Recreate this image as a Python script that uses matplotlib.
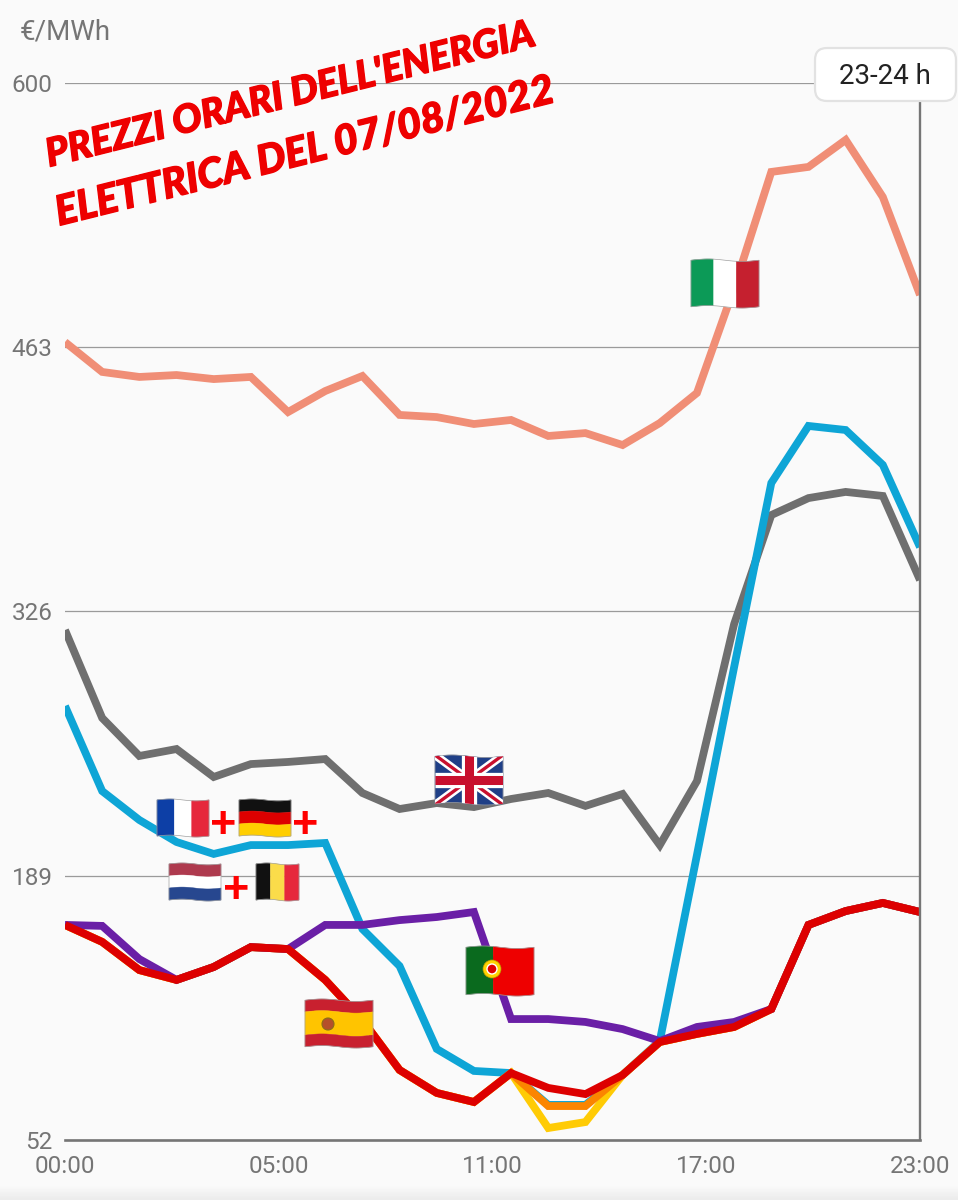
import numpy as np
import matplotlib
matplotlib.use('Agg')
import matplotlib.pyplot as plt
import matplotlib.patheffects as pe
from matplotlib.patches import Polygon, Circle, FancyBboxPatch

# hourly prices, EUR/MWh
hours = list(range(24))
italy = [465.7, 450.2, 447.6, 448.6, 446.5, 447.6, 429.4, 440.3, 448.1, 427.9, 426.8, 423.2,
         425.3, 417.0, 418.5, 412.3, 423.7, 439.3, 493.7, 553.9, 556.5, 570.5, 540.9, 490.1]
uk = [316.4, 270.8, 251.1, 254.7, 240.2, 246.9, 248.0, 249.5, 231.9, 223.6, 226.7, 224.6,
      228.8, 231.9, 225.2, 231.4, 204.9, 238.1, 319.5, 376.0, 384.8, 388.0, 385.9, 342.3]
central = [277.0, 232.9, 217.9, 206.5, 200.3, 204.9, 204.9, 206.0, 161.4, 142.2, 99.2, 87.8,
           86.7, 70.2, 70.2, 85.7, 103.3, 199.8, 297.2, 392.6, 422.2, 420.1, 402.0, 359.4]
yellow = [163.5, 154.7, 140.1, 135.0, 141.7, 152.0, 151.0, 135.0, 114.2, 88.3, 76.4, 71.7,
          86.7, 58.2, 61.3, 85.7, 102.8, 107.0, 110.6, 119.9, 163.5, 170.7, 174.9, 170.2]
orange = [163.5, 154.7, 140.1, 135.0, 141.7, 152.0, 151.0, 135.0, 114.2, 88.3, 76.4, 71.7,
          86.7, 69.6, 69.6, 85.7, 102.8, 107.0, 110.6, 119.9, 163.5, 170.7, 174.9, 170.2]
portugal = [163.5, 163.0, 145.8, 135.0, 141.7, 152.0, 151.0, 163.5, 163.5, 166.0, 167.6, 170.2,
            114.7, 114.7, 113.2, 109.5, 103.3, 110.6, 113.2, 119.9, 163.5, 170.7, 174.9, 170.2]
spain = [163.5, 154.7, 140.1, 135.0, 141.7, 152.0, 151.0, 135.0, 114.2, 88.3, 76.4, 71.7,
         86.7, 79.0, 75.8, 85.7, 102.8, 107.0, 110.6, 119.9, 163.5, 170.7, 174.9, 170.2]

y_ticks = [52, 189, 326, 463, 600]
x_tick_pos = [0, 5.75, 11.5, 17.25, 23]
x_tick_labels = ['00:00', '05:00', '11:00', '17:00', '23:00']

W, H = 958, 1200
BG = '#fafafa'
GREY = '#757575'

plt.rcParams['font.family'] = ['Roboto', 'DejaVu Sans']

fig = plt.figure(figsize=(W / 100, H / 100), dpi=100, facecolor=BG)
ax = fig.add_axes([65 / W, 1 - 1140 / H, (920 - 65) / W, (1140 - 83) / H], facecolor=BG)

ax.set_xlim(0, 23)
ax.set_ylim(52, 600)
ax.set_yticks(y_ticks)
ax.set_xticks(x_tick_pos)
ax.set_xticklabels(x_tick_labels)
ax.grid(axis='y', color='#9a9a9a', lw=0.9)
ax.set_axisbelow(True)
ax.tick_params(axis='both', length=0, labelsize=17.5, labelcolor=GREY)
ax.tick_params(axis='y', pad=9)
ax.tick_params(axis='x', pad=10.5)

for side in ['top', 'left']:
    ax.spines[side].set_visible(False)
ax.spines['bottom'].set_color(GREY)
ax.spines['bottom'].set_linewidth(1.9)
ax.spines['right'].set_color(GREY)
ax.spines['right'].set_linewidth(1.7)
ax.spines['right'].set_bounds(52, 590)

# order matters, red one sits on top of the others
series = [(italy, '#f08e76'), (uk, '#6f6f6f'), (central, '#0ea5d6'), (yellow, '#ffcb05'),
          (orange, '#fb8500'), (portugal, '#6a1fa6'), (spain, '#dd0000')]
for values, color in series:
    ax.plot(hours, values, color=color, lw=5.6, solid_joinstyle='miter', solid_capstyle='butt')

# overlay in pixel coordinates for the badge, flags and handwriting
top = fig.add_axes([0, 0, 1, 1], facecolor='none')
top.set_xlim(0, W)
top.set_ylim(H, 0)
top.axis('off')


def wave(box, u, v):
    x0, y0, x1, y1 = box
    h = y1 - y0
    return x0 + u * (x1 - x0), y0 + v * h * 0.95 + h * 0.025 * (1 - np.sin(2 * np.pi * u))


def band(box, u0, u1, v0, v1, color):
    u = np.linspace(u0, u1, 30)
    xa, ya = wave(box, u, v0 * np.ones(30))
    xb, yb = wave(box, u[::-1], v1 * np.ones(30))
    p = Polygon(np.column_stack([np.r_[xa, xb], np.r_[ya, yb]]), closed=True, fc=color, ec=color, lw=0.3)
    top.add_patch(p)
    return p


def outline(box):
    p = band(box, 0, 1, 0, 1, 'none')
    p.set_edgecolor('#a0a0a0')
    p.set_linewidth(0.5)


def hstripes(box, colors, weights=None):
    weights = weights or [1] * len(colors)
    edges = np.cumsum([0] + weights) / sum(weights)
    for c, a, b in zip(colors, edges[:-1], edges[1:]):
        band(box, 0, 1, a, b, c)
    outline(box)


def vstripes(box, colors, weights=None):
    weights = weights or [1] * len(colors)
    edges = np.cumsum([0] + weights) / sum(weights)
    for c, a, b in zip(colors, edges[:-1], edges[1:]):
        band(box, a, b, 0, 1, c)
    outline(box)


def uk_flag(box):
    base = band(box, 0, 1, 0, 1, '#1f3f87')
    x0, y0, x1, y1 = box
    w, h = x1 - x0, y1 - y0
    for (xa, ya, xb, yb) in [(x0, y0, x1, y1), (x0, y1, x1, y0)]:
        for color, lw in [('white', 6), ('#c8102e', 2.4)]:
            l, = top.plot([xa, xb], [ya, yb], color=color, lw=lw, solid_capstyle='butt')
            l.set_clip_path(base)
    for color, lw in [('white', 11), ('#c8102e', 6.5)]:
        l, = top.plot([x0, x1], [y0 + h / 2, y0 + h / 2], color=color, lw=lw, solid_capstyle='butt')
        l.set_clip_path(base)
        l, = top.plot([x0 + w / 2, x0 + w / 2], [y0, y1], color=color, lw=lw, solid_capstyle='butt')
        l.set_clip_path(base)
    outline(box)


hstripes((239, 799, 291, 837), ['#111111', '#dd0000', '#ffce00'])
vstripes((157, 799, 209, 837), ['#0d3fa6', '#ffffff', '#e6283c'])
hstripes((169, 863, 221, 901), ['#ae3a4e', '#ffffff', '#27478f'])
vstripes((256, 863, 299, 901), ['#111111', '#fbdc4a', '#e6283c'])
vstripes((691, 259, 759, 308), ['#0c9a57', '#ffffff', '#c5202f'])
uk_flag((435, 755, 503, 805))

# portugal, green and red with a small shield
vstripes((466, 946, 534, 996), ['#0a6a1e', '#ee0000'], [2, 3])
top.add_patch(Circle((492, 969), 9, fc='#ffd400', ec='#b59a00', lw=0.5))
top.add_patch(Circle((492, 969), 5, fc='#dd0000', ec='white', lw=1))

# spain, with the coat of arms as a small blob
hstripes((305, 999, 373, 1048), ['#c8202f', '#ffc400', '#c8202f'], [1, 2, 1])
top.add_patch(Circle((328, 1024), 6, fc='#b5502a', ec='#8a6d1a', lw=0.8))

# plus signs between the flags
for px, py in [(223, 821), (305, 821), (236, 886)]:
    top.text(px, py, '+', color='#ff0000', fontsize=33, fontweight='black', family='Lato',
             ha='center', va='center_baseline')

# handwritten title
stroke = [pe.withStroke(linewidth=1.0, foreground='#ee0000')]
top.text(290, 95, "PREZZI ORARI DELL'ENERGIA", color='#ee0000', fontsize=28, family='Lato',
         fontweight='black', fontstyle='italic', rotation=14, rotation_mode='anchor',
         ha='center', va='center', path_effects=stroke)
top.text(305, 152, 'ELETTRICA DEL 07/08/2022', color='#ee0000', fontsize=29.5, family='Lato',
         fontweight='black', fontstyle='italic', rotation=14, rotation_mode='anchor',
         ha='center', va='center', path_effects=stroke)

top.text(20, 32, '€/MWh', color=GREY, fontsize=20, ha='left', va='center')

# the hour badge at the top right
badge = FancyBboxPatch((825, 58), 121, 33, boxstyle='round,pad=10,rounding_size=12',
                       fc='white', ec='#e2e2e2', lw=1.6)
top.add_patch(badge)
top.text(885, 77, '23-24 h', color='#222222', fontsize=20, ha='center', va='center')

# grey shade along the bottom edge of the screenshot
shade = fig.add_axes([0, 0, 1, 15 / H])
shade.imshow(np.linspace(0, 1, 15)[:, None], cmap=matplotlib.colors.LinearSegmentedColormap.from_list('s', [BG, '#ececec']),
             aspect='auto')
shade.axis('off')

fig.savefig('out.png', dpi=100, facecolor=BG)
